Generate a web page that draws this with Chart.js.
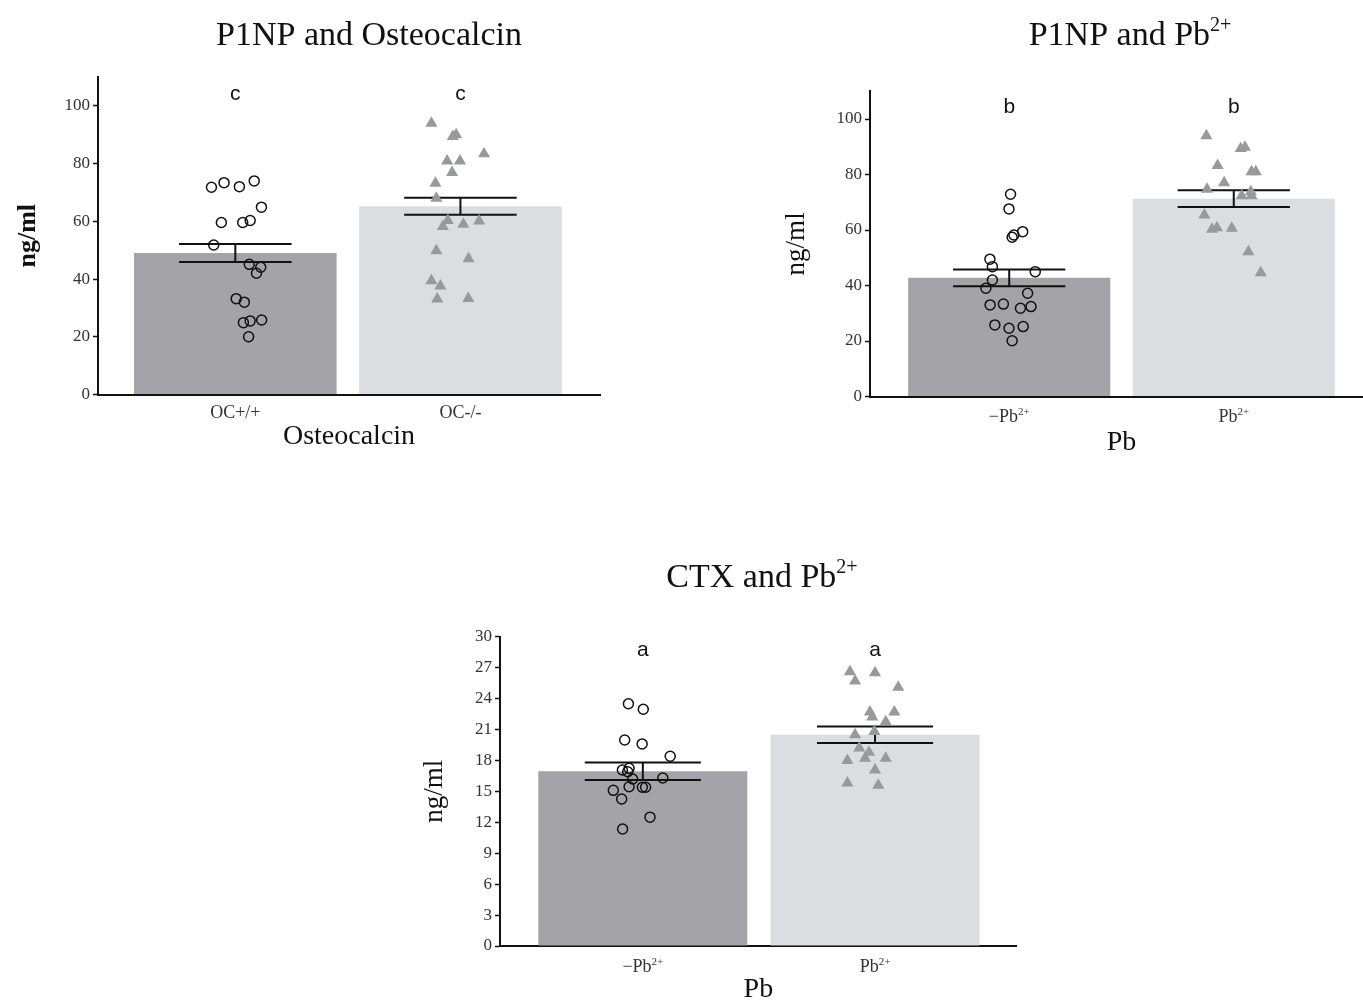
<!DOCTYPE html>
<html>
<head>
<meta charset="utf-8">
<script src="https://cdn.jsdelivr.net/npm/chart.js@4.4.1/dist/chart.umd.min.js"></script>
<style>
  html, body { margin: 0; padding: 0; background: #fff; }
  body { width: 1363px; height: 1002px; overflow: hidden; position: relative; }
  canvas { position: absolute; }
</style>
</head>
<body>
<canvas id="p1np-oc" width="640" height="460" style="left:0px;top:0px"></canvas>
<canvas id="p1np-pb" width="620" height="470" style="left:760px;top:0px"></canvas>
<canvas id="ctx-pb" width="660" height="480" style="left:400px;top:540px"></canvas>
<script>
// P1NP and Osteocalcin
const ocCategories = ['OC+/+', 'OC-/-'];
const ocMeans = [49.0, 65.2];
const ocSe = [3.1, 2.95];
const ocLetters = ['c', 'c'];
const ocWildX = [0.894, 0.95, 1.018, 1.084, 1.116, 0.938, 1.033, 1.066, 0.904, 1.062, 1.113, 1.094, 1.004, 1.04, 1.036, 1.066, 1.117, 1.059];
const ocWildY = [71.8, 73.4, 72.0, 74.0, 64.9, 59.6, 59.6, 60.3, 51.8, 45.1, 44.1, 42.0, 33.2, 32.0, 24.9, 25.5, 25.8, 20.0];
const ocKnockX = [1.871, 1.966, 1.981, 2.105, 1.941, 1.998, 1.963, 1.889, 1.893, 1.944, 1.922, 2.013, 2.083, 1.893, 2.036, 1.871, 1.911, 1.897, 2.035];
const ocKnockY = [94.0, 89.4, 90.0, 83.4, 80.9, 80.9, 76.9, 73.2, 68.0, 60.3, 58.2, 59.0, 60.1, 49.8, 47.0, 39.4, 37.6, 33.1, 33.3];

// Pb groups (shared tick labels)
const pbCategories = ['\u2212Pb', 'Pb'];
const pbSup = ['2+', '2+'];

// P1NP and Pb2+
const p1npPbMeans = [42.75, 71.3];
const p1npPbSe = [3.05, 3.0];
const p1npPbLetters = ['b', 'b'];
const p1npCtrlX = [1.006, 0.999, 1.06, 1.021, 1.013, 0.914, 0.925, 1.116, 0.925, 0.896, 1.082, 0.915, 0.974, 1.05, 1.097, 0.936, 0.999, 1.062, 1.013];
const p1npCtrlY = [72.9, 67.6, 59.4, 58.2, 57.4, 49.5, 46.8, 45.0, 42.0, 39.0, 37.2, 33.0, 33.3, 31.8, 32.4, 25.8, 24.6, 25.2, 20.1];
const p1npLeadX = [1.878, 2.031, 2.05, 1.928, 2.079, 2.098, 1.957, 1.881, 2.076, 2.035, 2.079, 1.869, 1.903, 1.925, 1.991, 2.065, 2.12];
const p1npLeadY = [94.0, 89.4, 89.8, 83.2, 81.0, 81.0, 77.0, 74.7, 73.8, 72.3, 72.3, 65.4, 60.3, 60.8, 60.6, 52.2, 44.6];

// CTX and Pb2+
const ctxPbMeans = [16.95, 20.5];
const ctxPbSe = [0.85, 0.8];
const ctxPbLetters = ['a', 'a'];
const ctxCtrlX = [0.938, 1.002, 0.922, 0.997, 1.118, 0.912, 0.941, 0.935, 0.956, 1.086, 0.873, 0.941, 0.998, 1.012, 0.909, 1.031, 0.913];
const ctxCtrlY = [23.5, 22.96, 19.98, 19.6, 18.4, 17.07, 17.23, 16.9, 16.2, 16.3, 15.1, 15.45, 15.4, 15.4, 14.26, 12.5, 11.35];
const ctxLeadX = [1.892, 1.914, 2.0, 2.1, 1.978, 1.988, 2.083, 2.046, 1.997, 1.914, 1.932, 1.974, 1.957, 1.881, 2.046, 2.0, 1.881, 2.014];
const ctxLeadY = [26.6, 25.7, 26.5, 25.1, 22.7, 22.2, 22.7, 21.76, 20.8, 20.5, 19.2, 18.8, 18.2, 18.0, 18.2, 17.07, 15.8, 15.6];

const SERIF = '"Liberation Serif", "Times New Roman", serif';
const SANS = '"Liberation Sans", Arial, sans-serif';
const BAR_DARK = '#a4a4a8';
const BAR_LIGHT = '#dcdde0';
const TRI_FILL = '#98999c';

// text with an optional superscript, centred on cx, baseline at y
function drawSup(ctx, base, sup, cx, y, size, supSize, raise) {
  ctx.font = size + 'px ' + SERIF;
  const wb = ctx.measureText(base).width;
  ctx.font = supSize + 'px ' + SERIF;
  const ws = sup ? ctx.measureText(sup).width : 0;
  const x0 = cx - (wb + ws) / 2;
  ctx.textAlign = 'left';
  ctx.textBaseline = 'alphabetic';
  ctx.font = size + 'px ' + SERIF;
  ctx.fillText(base, x0, y);
  if (sup) {
    ctx.font = supSize + 'px ' + SERIF;
    ctx.fillText(sup, x0 + wb, y - raise);
  }
}

const errorBars = {
  id: 'errorBars',
  afterDatasetDraw(chart, args, opts) {
    if (args.index !== 0) return;
    const { ctx, scales: { x, y } } = chart;
    ctx.save();
    ctx.strokeStyle = '#111';
    ctx.lineWidth = 2;
    opts.means.forEach((m, i) => {
      const c = i + 1;
      const hi = y.getPixelForValue(m + opts.se[i]);
      const lo = y.getPixelForValue(m - opts.se[i]);
      const l = x.getPixelForValue(c - 0.25), r = x.getPixelForValue(c + 0.25), mid = x.getPixelForValue(c);
      ctx.beginPath();
      ctx.moveTo(l, hi); ctx.lineTo(r, hi);
      ctx.moveTo(l, lo); ctx.lineTo(r, lo);
      ctx.moveTo(mid, hi); ctx.lineTo(mid, lo);
      ctx.stroke();
    });
    ctx.restore();
  }
};

const panelText = {
  id: 'panelText',
  afterDraw(chart, args, opts) {
    const { ctx, chartArea, scales: { x, y } } = chart;
    ctx.save();
    ctx.fillStyle = '#111';
    drawSup(ctx, opts.title, opts.titleSup, opts.titleX, opts.titleY, 34, 20, 14);
    ctx.fillStyle = '#333';
    opts.ticks.forEach((t, i) => {
      drawSup(ctx, t, opts.tickSup[i], x.getPixelForValue(i + 1), chartArea.bottom + opts.tickGap, 18, 11, 7);
    });
    ctx.fillStyle = '#111';
    ctx.font = '21px ' + SANS;
    ctx.textAlign = 'center';
    ctx.textBaseline = 'alphabetic';
    opts.letters.forEach((l, i) => {
      ctx.fillText(l, x.getPixelForValue(i + 1), y.getPixelForValue(opts.letterLevel));
    });
    ctx.restore();
  }
};

function makePanel(id, p) {
  const pts = (xs, ys) => xs.map((v, i) => ({ x: v, y: ys[i] }));
  return new Chart(document.getElementById(id), {
    type: 'scatter',
    plugins: [errorBars, panelText],
    data: {
      datasets: [
        {
          type: 'bar',
          data: p.means.map((m, i) => ({ x: i + 1, y: m })),
          backgroundColor: [BAR_DARK, BAR_LIGHT],
          borderWidth: 0,
          barPercentage: 0.9,
          categoryPercentage: 1,
          order: 2
        },
        {
          data: pts(p.circX, p.circY),
          pointStyle: 'circle',
          radius: 5,
          borderWidth: 1.5,
          borderColor: '#111',
          backgroundColor: 'rgba(0,0,0,0)',
          order: 1
        },
        {
          data: pts(p.triX, p.triY),
          pointStyle: 'triangle',
          radius: 7,
          borderWidth: 0,
          backgroundColor: TRI_FILL,
          order: 0
        }
      ]
    },
    options: {
      responsive: false,
      animation: false,
      events: [],
      layout: { padding: { left: 0, top: p.padTop, right: p.padRight, bottom: 0 } },
      plugins: {
        legend: { display: false },
        tooltip: { enabled: false },
        errorBars: { means: p.means, se: p.se },
        panelText: {
          title: p.title, titleSup: p.titleSup, titleX: p.titleX, titleY: p.titleY,
          ticks: p.ticks, tickSup: p.tickSup, tickGap: p.tickGap,
          letters: p.letters, letterLevel: p.letterLevel
        }
      },
      scales: {
        x: {
          type: 'linear',
          min: p.xMin,
          max: p.xMax,
          offset: false,
          afterBuildTicks: s => { s.ticks = [{ value: 1 }, { value: 2 }]; },
          afterFit: s => { s.height = p.xAxisH; },
          ticks: { display: false },
          grid: { display: false },
          border: { display: true, color: '#111', width: 2 },
          title: {
            display: true, text: p.xTitle, color: '#111',
            font: { family: SERIF, size: 28 },
            padding: { top: 0, bottom: p.xTitlePad }
          }
        },
        y: {
          type: 'linear',
          min: 0,
          max: p.yMax,
          ticks: { stepSize: p.yStep, color: '#333', padding: 3, font: { family: SERIF, size: 17 } },
          afterBuildTicks: s => {
            s.ticks = s.ticks.filter(t => Math.abs(t.value / p.yStep - Math.round(t.value / p.yStep)) < 1e-6);
          },
          afterFit: s => { s.width = p.yAxisW; },
          grid: { display: true, drawOnChartArea: false, drawTicks: true, tickLength: 5, tickColor: '#111', tickWidth: 1.5 },
          border: { display: true, color: '#111', width: 2 },
          title: {
            display: true, text: 'ng/ml', color: '#111',
            font: { family: SERIF, size: p.yTitleSize, weight: p.yTitleWeight },
            padding: { top: p.yTitlePad, bottom: 0 }
          }
        }
      }
    }
  });
}

makePanel('p1np-oc', {
  means: ocMeans, se: ocSe, letters: ocLetters,
  circX: ocWildX, circY: ocWildY, triX: ocKnockX, triY: ocKnockY,
  ticks: ocCategories, tickSup: ['', ''], tickGap: 23,
  title: 'P1NP and Osteocalcin', titleSup: '', titleX: 369, titleY: 45,
  xTitle: 'Osteocalcin', xTitlePad: 6.2,
  padTop: 77, padRight: 40, yAxisW: 98, xAxisH: 65.5,
  xMin: 0.39, xMax: 2.62, yMax: 110, yStep: 20,
  yTitleSize: 26, yTitleWeight: 'bold', yTitlePad: 13,
  letterLevel: 102.2
});

makePanel('p1np-pb', {
  means: p1npPbMeans, se: p1npPbSe, letters: p1npPbLetters,
  circX: p1npCtrlX, circY: p1npCtrlY, triX: p1npLeadX, triY: p1npLeadY,
  ticks: pbCategories, tickSup: pbSup, tickGap: 25,
  title: 'P1NP and Pb', titleSup: '2+', titleX: 370, titleY: 45,
  xTitle: 'Pb', xTitlePad: 10.2,
  padTop: 91.25, padRight: 2.6, yAxisW: 110, xAxisH: 73.5,
  xMin: 0.38, xMax: 2.62, yMax: 110, yStep: 20,
  yTitleSize: 27, yTitleWeight: 'normal', yTitlePad: 21,
  letterLevel: 102.2
});

makePanel('ctx-pb', {
  means: ctxPbMeans, se: ctxPbSe, letters: ctxPbLetters,
  circX: ctxCtrlX, circY: ctxCtrlY, triX: ctxLeadX, triY: ctxLeadY,
  ticks: pbCategories, tickSup: pbSup, tickGap: 25.7,
  title: 'CTX and Pb', titleSup: '2+', titleX: 362, titleY: 47,
  xTitle: 'Pb', xTitlePad: 13.2,
  padTop: 96.7, padRight: 43.3, yAxisW: 100, xAxisH: 74,
  xMin: 0.385, xMax: 2.61, yMax: 30, yStep: 3,
  yTitleSize: 27, yTitleWeight: 'normal', yTitlePad: 19,
  letterLevel: 28.1
});
</script>
</body>
</html>
